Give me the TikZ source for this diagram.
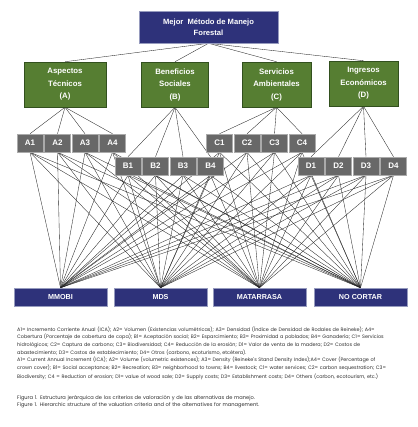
\documentclass[tikz,border=0pt]{standalone}
\usepackage{fontspec}
\setmainfont{Liberation Sans}
\newfontfamily\legfont{Poppins}
\usetikzlibrary{shadows}
\definecolor{navybox}{RGB}{46,50,122}
\definecolor{navyedge}{RGB}{150,155,190}
\definecolor{grnbox}{RGB}{86,126,50}
\definecolor{grnedge}{RGB}{50,80,30}
\definecolor{grybox}{RGB}{104,104,104}
\definecolor{gryedge}{RGB}{170,170,170}
\definecolor{legtext}{RGB}{45,45,45}
\pgfdeclarelayer{bg}
\pgfsetlayers{bg,main}
\tikzset{
  boxshadow/.style={drop shadow={opacity=0.35,shadow xshift=0.8pt,shadow yshift=-0.8pt}},
  topbox/.style={boxshadow,fill=navybox,draw=navyedge,line width=0.6pt,text=white,
    font=\bfseries\fontsize{7.6}{11}\selectfont,align=center,inner sep=0pt,
    minimum width=139pt,minimum height=32pt},
  critbox/.style={boxshadow,fill=grnbox,draw=grnedge,line width=0.5pt,text=white,
    font=\bfseries\fontsize{7.8}{12.5}\selectfont,align=center,inner sep=0pt,
    minimum height=45pt},
  subbox/.style={boxshadow,fill=grybox,draw=gryedge,line width=0.5pt,text=white,
    font=\bfseries\fontsize{8}{9}\selectfont,inner sep=0pt,
    minimum width=26pt,minimum height=18pt},
  altbox/.style={boxshadow,fill=navybox,draw=navyedge,line width=0.5pt,text=white,
    font=\bfseries\fontsize{7.2}{8}\selectfont,inner sep=0pt,
    minimum width=93pt,minimum height=18pt},
  conn/.style={draw=black!85,line width=0.35pt},
  legend/.style={text=legtext,inner sep=0pt,anchor=north west,
    font=\legfont\fontsize{4.9}{7.6}\selectfont,text width=391pt},
}
\begin{document}
\begin{tikzpicture}[x=1pt,y=-1pt]
\useasboundingbox (0,0) rectangle (417,427);

% top
\node[topbox] (top) at (208.5,27) {Mejor\ \ Método de Manejo\\Forestal};

% criteria
\node[critbox,minimum width=82pt] (A) at (65,84.5) {Aspectos\\Técnicos\\(A)};
\node[critbox,minimum width=67pt] (B) at (175,84.5) {Beneficios\\Sociales\\(B)};
\node[critbox,minimum width=69pt] (C) at (276.5,84.5) {Servicios\\Ambientales\\(C)};
\node[critbox,minimum width=69pt] (D) at (363.5,83.5) {Ingresos\\Económicos\\(D)};

% sub-criteria
\node[subbox] (A1) at (30,143) {A1};
\node[subbox] (A2) at (57.5,143) {A2};
\node[subbox] (A3) at (85,143) {A3};
\node[subbox] (A4) at (112.5,143) {A4};
\node[subbox] (B1) at (128,166) {B1};
\node[subbox] (B2) at (155.5,166) {B2};
\node[subbox] (B3) at (183,166) {B3};
\node[subbox] (B4) at (210.5,166) {B4};
\node[subbox] (C1) at (219.5,143) {C1};
\node[subbox] (C2) at (247,143) {C2};
\node[subbox] (C3) at (274.5,143) {C3};
\node[subbox] (C4) at (302,143) {C4};
\node[subbox] (D1) at (311,166) {D1};
\node[subbox] (D2) at (338.5,166) {D2};
\node[subbox] (D3) at (366,166) {D3};
\node[subbox] (D4) at (393.5,166) {D4};

% alternatives
\node[altbox] (M1) at (60.5,297) {MMOBI};
\node[altbox] (M2) at (160.5,297) {MDS};
\node[altbox] (M3) at (259.5,297) {MATARRASA};
\node[altbox] (M4) at (360.5,297) {NO CORTAR};

\begin{pgfonlayer}{bg}
  \foreach \g in {A,B,C,D}{
    \draw[conn] (top.south) -- (\g.north);
    \foreach \i in {1,2,3,4}{
      \draw[conn] (\g.south) -- (\g\i.north);
      \foreach \m in {M1,M2,M3,M4}{
        \draw[conn] (\g\i.south) -- (\m.north);
      }
    }
  }
\end{pgfonlayer}

% legend
\node[legend] (leg) at (17,326.5) {%
A1= Incremento Corriente Anual (ICA); A2= Volumen (Existencias volumétricas); A3= Densidad (Índice de Densidad de Rodales de Reineke); A4=\linebreak
Cobertura (Porcentaje de cobertura de copa); B1= Aceptación social; B2= Esparcimiento; B3= Proximidad a poblados; B4= Ganadería; C1= Servicios\linebreak
hidrológicos; C2= Captura de carbono; C3= Biodiversidad; C4= Reducción de la erosión; D1= Valor de venta de la madera; D2= Costos de\linebreak
abastecimiento; D3= Costos de establecimiento; D4= Otros (carbono, ecoturismo, etcétera).\par
A1= Current Annual Increment (ICA); A2= Volume (volumetric existences); A3= Density (Reineke's Stand Density Index);A4= Cover (Percentage of\linebreak
crown cover); B1= Social acceptance; B2= Recreation; B3= neighborhood to towns; B4= livestock; C1= water services; C2= carbon sequestration; C3=\linebreak
\rule{0pt}{6.6pt}Biodiversity; C4 = Reduction of erosion; D1= value of wood sale; D2= Supply costs; D3= Establishment costs; D4= Others (carbon, ecotourism, etc.)};

\node[legend,text width=380pt,font=\legfont\fontsize{5.1}{6.8}\selectfont] (cap) at (17,395.5) {%
Figura 1. Estructura jerárquica de los criterios de valoración y de las alternativas de manejo.\\
Figure 1. Hierarchic structure of the valuation criteria and of the alternatives for management.};
\end{tikzpicture}
\end{document}
